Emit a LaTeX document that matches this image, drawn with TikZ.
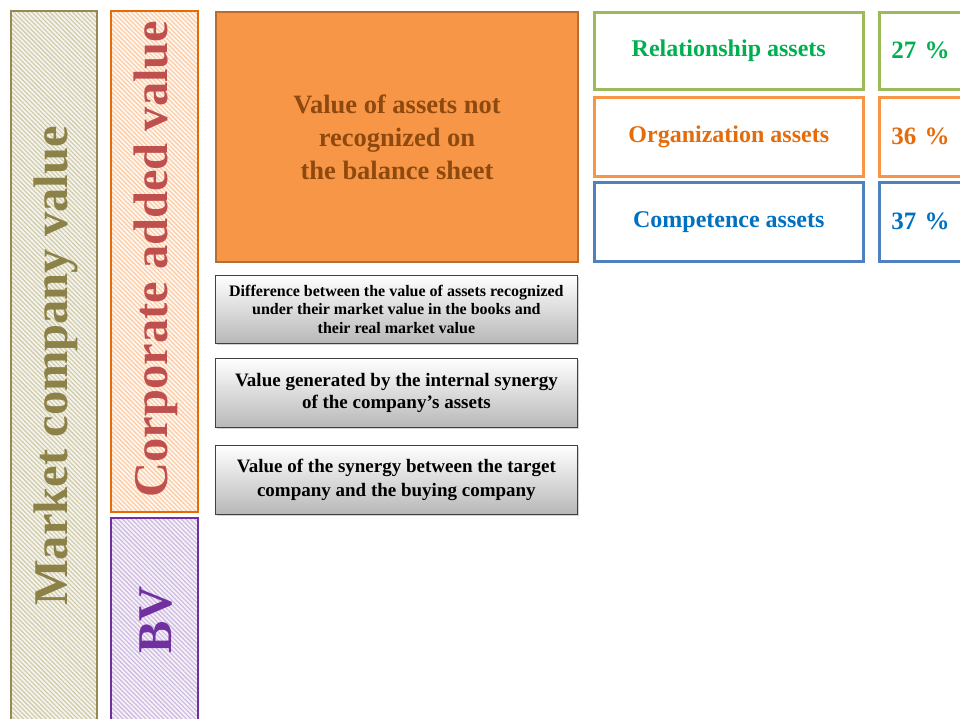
\documentclass[tikz,border=0pt]{standalone}
\usepackage{fontspec}
\setmainfont{Liberation Serif}
\usetikzlibrary{patterns.meta,shadows}

\definecolor{olivebd}{HTML}{948A54}
\definecolor{olivetx}{HTML}{8C8248}
\definecolor{olivebg}{HTML}{F4F3EC}
\definecolor{olivehl}{HTML}{CFC9A8}
\definecolor{cavbd}{HTML}{E36C09}
\definecolor{cavtx}{HTML}{C0504D}
\definecolor{cavbg}{HTML}{FFF6EE}
\definecolor{cavhl}{HTML}{FBC9A2}
\definecolor{bvbd}{HTML}{7030A0}
\definecolor{bvbg}{HTML}{F5F0F9}
\definecolor{bvhl}{HTML}{CBB8DE}
\definecolor{hidfill}{HTML}{F79646}
\definecolor{hidbd}{HTML}{B66D31}
\definecolor{hidtx}{HTML}{8E4A0E}
\definecolor{relbd}{HTML}{9BBB59}
\definecolor{reltx}{HTML}{00B050}
\definecolor{orgbd}{HTML}{F79646}
\definecolor{orgtx}{HTML}{E46C0A}
\definecolor{combd}{HTML}{4F81BD}
\definecolor{comtx}{HTML}{0070C0}

\tikzset{
  column/.style={draw, line width=2.5pt},
  hatch/.style={pattern={Lines[angle=-45,distance=3.2pt,line width=1.1pt]}},
  coltext/.style={rotate=90, font=\fontsize{48.5}{52}\selectfont\bfseries},
  hidbox/.style={draw=hidbd, fill=hidfill, line width=2pt, anchor=north west,
    minimum width=362pt, minimum height=250pt, text=hidtx, align=center,
    font=\fontsize{26.5}{33}\selectfont\bfseries},
  greybox/.style={draw=black!75, line width=0.8pt, anchor=north west,
    top color=white, bottom color=black!28, minimum width=362pt,
    drop shadow={shadow xshift=1.5pt, shadow yshift=-1.5pt, opacity=0.35},
    align=center, inner sep=0pt},
  assetbox/.style={draw, line width=2.5pt, fill=white, anchor=north west,
    minimum width=269pt, font=\fontsize{24}{28}\selectfont\bfseries},
  pctbox/.style={draw, line width=2.5pt, fill=white, anchor=north west,
    minimum width=90pt, font=\fontsize{25}{28}\selectfont\bfseries,
    text width=76pt, align=left},
}

\begin{document}
\begin{tikzpicture}[x=1pt,y=-1pt]
\useasboundingbox (0,0) rectangle (960,718);

% hatched value columns
\fill[olivebg] (11,11) rectangle (97,730);
\fill[hatch, pattern color=olivehl] (11,11) rectangle (97,730);
\draw[column, draw=olivebd] (11,11) rectangle (97,730);
\node[coltext, text=olivetx] (mcv) at (56,366) {Market company value};

\fill[cavbg] (111,11) rectangle (198,512);
\fill[hatch, pattern color=cavhl] (111,11) rectangle (198,512);
\draw[column, draw=cavbd] (111,11) rectangle (198,512);
\node[coltext, text=cavtx] (cav) at (156,259) {Corporate added value};

\fill[bvbg] (111,518) rectangle (198,730);
\fill[hatch, pattern color=bvhl] (111,518) rectangle (198,730);
\draw[column, draw=bvbd] (111,518) rectangle (198,730);
\node[coltext, text=bvbd] (bv) at (156,620) {BV};

% hidden assets block
\node[hidbox] (hid) at (215,11) {Value of assets not\\recognized on\\the balance sheet};

% components of the added value
\node[greybox, minimum height=68pt, font=\fontsize{16}{18.5}\selectfont\bfseries] (diff) at (215,275)
  {Difference between the value of assets recognized\\under their market value in the books and\\their real market value};
\node[greybox, minimum height=69pt, font=\fontsize{19}{22.5}\selectfont\bfseries] (intsyn) at (215,358)
  {Value generated by the internal synergy\\of the company’s assets};
\node[greybox, minimum height=69pt, font=\fontsize{19}{23.5}\selectfont\bfseries] (extsyn) at (215,445)
  {Value of the synergy between the target\\company and the buying company};

% intangible asset categories
\node[assetbox, draw=relbd, text=reltx, minimum height=77pt] (rel) at (593,11) {Relationship assets};
\node[assetbox, draw=orgbd, text=orgtx, minimum height=79pt] (org) at (593,96) {Organization assets};
\node[assetbox, draw=combd, text=comtx, minimum height=79pt] (com) at (593,181) {Competence assets};

\node[pctbox, draw=relbd, text=reltx, minimum height=77pt] (relp) at (878,11) {\hspace*{5pt}27 \%};
\node[pctbox, draw=orgbd, text=orgtx, minimum height=79pt] (orgp) at (878,96) {\hspace*{5pt}36 \%};
\node[pctbox, draw=combd, text=comtx, minimum height=79pt] (comp) at (878,181) {\hspace*{5pt}37 \%};
\end{tikzpicture}
\end{document}
